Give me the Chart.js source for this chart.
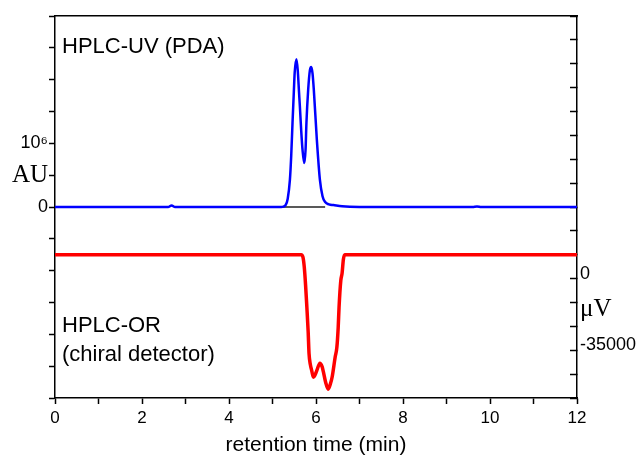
<!DOCTYPE html>
<html>
<head>
<meta charset="utf-8">
<script src="https://cdn.jsdelivr.net/npm/chart.js@4.4.1/dist/chart.umd.min.js"></script>
<style>
  html, body { margin: 0; padding: 0; background: #fff; }
  #wrap { width: 640px; height: 458px; }
</style>
</head>
<body>
<div id="wrap"><canvas id="chart" width="640" height="458"></canvas></div>
<script>
// ==========================
// DATA
// ==========================
// HPLC-UV (PDA) trace, time in min, signal in AU
const uvTime = [0, 2.6, 2.68, 2.76, 5.2, 5.25, 5.3, 5.35, 5.4, 5.43, 5.46, 5.49, 5.51, 5.55, 5.58, 5.61, 5.63, 5.66, 5.69, 5.73, 5.76, 5.78, 5.82, 5.86, 5.89, 5.92, 5.95, 6.02, 6.09, 6.15, 6.21, 6.3, 6.4, 6.6, 7, 9.6, 9.7, 9.8, 12];
const uvSignal = [0, 0, 25000, 0, 0, 5000, 30000, 130000, 425000, 800000, 1320000, 1800000, 2110000, 2320000, 2150000, 1800000, 1570000, 1200000, 900000, 690000, 900000, 1320000, 1840000, 2150000, 2200000, 2100000, 1840000, 1050000, 425000, 170000, 80000, 40000, 30000, 10000, 0, 0, 8000, 0, 0];

// integration baseline under the UV peaks
const baseTime = [5.24, 6.21];
const baseSignal = [0, 0];

// HPLC-OR (chiral detector) trace, time in min, signal in µV
const orTime = [0, 5.66, 5.7, 5.73, 5.76, 5.79, 5.82, 5.84, 5.87, 5.9, 5.94, 5.98, 6.02, 6.09, 6.14, 6.17, 6.22, 6.28, 6.33, 6.37, 6.44, 6.48, 6.51, 6.53, 6.57, 6.6, 6.63, 6.66, 12];
const orSignal = [11700, 11700, 10500, 5700, -3000, -14000, -26000, -36700, -42000, -44800, -48200, -47000, -44800, -41300, -43000, -45600, -50500, -54000, -51500, -48200, -38400, -33500, -24000, -14000, -1000, 2700, 9500, 11700, 11700];

// axes
const xTicks = [0, 2, 4, 6, 8, 10, 12];
const uvStep = 500000;
const orStep = 35000 / 3;

// ==========================
// HELPERS
// ==========================
function toPoints(xs, ys) {
  return xs.map((x, i) => ({ x: x, y: ys[i] }));
}

function fixBox(s, w, h) {
  if (w !== null) s.width = w;
  if (h !== null) s.height = h;
  s.paddingTop = 0;
  s.paddingBottom = 0;
  s.paddingLeft = 0;
  s.paddingRight = 0;
}

const sans = '"Liberation Sans", Arial, Helvetica, sans-serif';
const serif = '"Liberation Serif", "Times New Roman", serif';

// labels written inside the plot
const notes = {
  id: "notes",
  afterDatasetsDraw(chart) {
    const c = chart.ctx;
    c.save();
    c.fillStyle = "#000";
    c.font = "22px " + sans;
    c.textBaseline = "alphabetic";
    c.fillText("HPLC-UV (PDA)", 62, 53);
    c.fillText("HPLC-OR", 62, 332);
    c.fillText("(chiral detector)", 62, 361);
    c.restore();
  }
};

// ==========================
// CHART
// ==========================
const ctx = document.getElementById("chart").getContext("2d");

new Chart(ctx, {
  type: "line",
  data: {
    datasets: [
      {
        data: toPoints(uvTime, uvSignal),
        yAxisID: "y",
        borderColor: "#0000ff",
        borderWidth: 2.5,
        pointRadius: 0,
        cubicInterpolationMode: "monotone"
      },
      {
        data: toPoints(baseTime, baseSignal),
        yAxisID: "y",
        borderColor: "#222",
        borderWidth: 1.5,
        pointRadius: 0
      },
      {
        data: toPoints(orTime, orSignal),
        yAxisID: "y2",
        borderColor: "#ff0000",
        borderWidth: 3.5,
        pointRadius: 0,
        cubicInterpolationMode: "monotone"
      }
    ]
  },
  options: {
    responsive: false,
    animation: false,
    layout: { padding: 0 },
    plugins: {
      legend: { display: false },
      tooltip: { enabled: false }
    },
    scales: {
      x: {
        type: "linear",
        position: "bottom",
        min: 0,
        max: 12,
        afterFit: (s) => fixBox(s, null, 60),
        ticks: {
          stepSize: 1,
          maxRotation: 0,
          autoSkip: false,
          padding: 4,
          color: "#000",
          font: { family: sans, size: 17 },
          callback: (v) => (xTicks.includes(v) ? String(v) : "")
        },
        grid: { drawOnChartArea: false, tickLength: 6, tickWidth: 1.5, tickColor: "#000" },
        border: { color: "#000", width: 1.5 },
        title: {
          display: true,
          text: "retention time (min)",
          color: "#000",
          font: { family: sans, size: 21 },
          padding: { top: 0, bottom: 0 }
        }
      },
      xTop: {
        type: "linear",
        position: "top",
        min: 0,
        max: 12,
        afterFit: (s) => fixBox(s, null, 16),
        ticks: { display: false },
        grid: { drawOnChartArea: false, drawTicks: false },
        border: { color: "#000", width: 1.5 }
      },
      y: {
        type: "linear",
        position: "left",
        min: -3000000,
        max: 3000000,
        afterFit: (s) => fixBox(s, 55, null),
        ticks: {
          stepSize: uvStep,
          autoSkip: false,
          padding: 1,
          color: "#000",
          font: (c) => (c.tick && c.tick.value === uvStep
            ? { family: serif, size: 25 }
            : { family: sans, size: 18 }),
          callback: (v) => {
            if (v === 0) return "0";
            if (v === uvStep) return "AU";
            if (v === 2 * uvStep) return "10\u2076";
            return "";
          }
        },
        grid: { drawOnChartArea: false, tickLength: 6, tickWidth: 1.5, tickColor: "#000" },
        border: { color: "#000", width: 1.5 }
      },
      y2: {
        type: "linear",
        position: "right",
        min: -5 * orStep,
        max: 11 * orStep,
        afterFit: (s) => fixBox(s, 63, null),
        afterBuildTicks: (s) => {
          const t = [];
          for (let i = -5; i <= 11; i++) t.push({ value: i * orStep });
          t.push({ value: -17500 });
          s.ticks = t;
        },
        ticks: {
          autoSkip: false,
          padding: 10,
          labelOffset: -5,
          color: "#000",
          font: (c) => (c.tick && c.tick.value === -17500
            ? { family: serif, size: 25 }
            : { family: sans, size: 18 }),
          callback: (v) => {
            if (Math.abs(v) < 1) return "0";
            if (Math.abs(v + 35000) < 1) return "-35000";
            if (v === -17500) return "\u03bcV";
            return "";
          }
        },
        grid: {
          drawOnChartArea: false,
          tickLength: -7,
          tickWidth: 1.5,
          tickColor: (c) => (c.tick && c.tick.value === -17500 ? "rgba(0,0,0,0)" : "#000")
        },
        border: { color: "#000", width: 1.5 }
      }
    }
  },
  plugins: [notes]
});
</script>
</body>
</html>
